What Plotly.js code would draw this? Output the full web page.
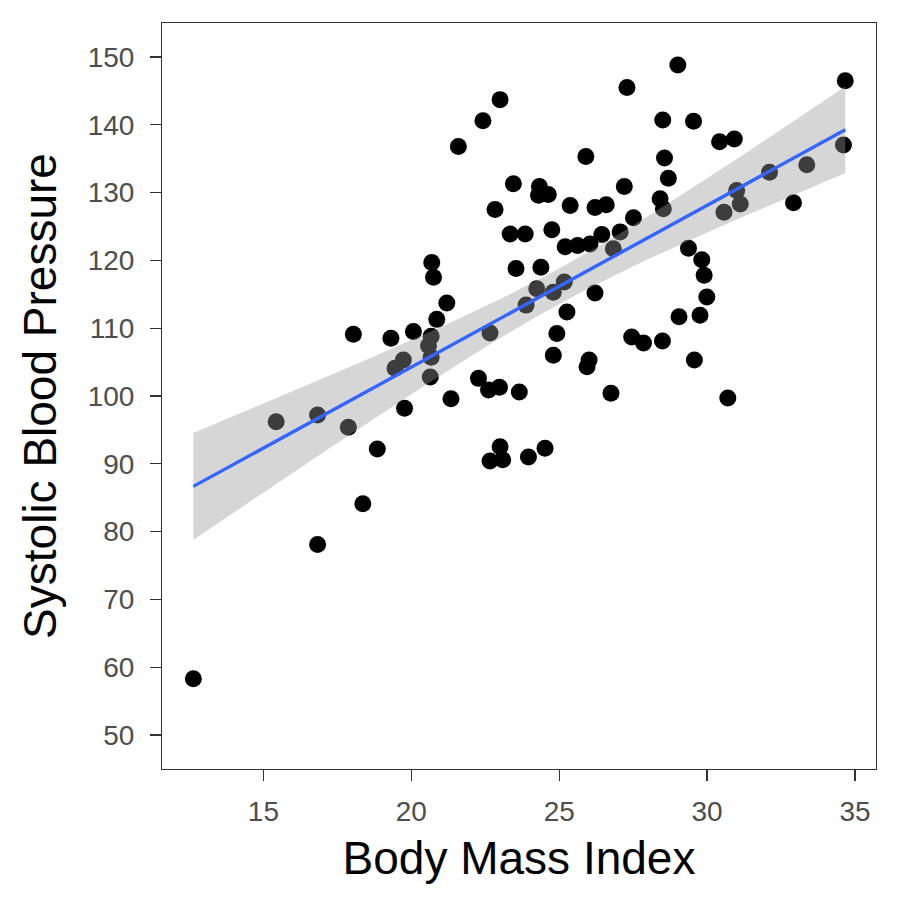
<!DOCTYPE html>
<html>
<head>
<meta charset="utf-8">
<script src="https://cdn.plot.ly/plotly-3.0.1.min.js"></script>
<style>html,body{margin:0;padding:0;background:#fff;}#chart{width:900px;height:900px;}</style>
</head>
<body>
<div id="chart"></div>
<script>
// Body Mass Index (x) and Systolic Blood Pressure (y)
const bmi = [12.63,15.43,16.83,16.83,17.87,18.04,18.36,18.85,19.31,19.45,
  19.73,19.77,20.07,20.69,20.75,20.86,20.67,20.58,20.67,20.64,
  21.20,21.34,21.59,22.27,22.42,22.61,22.66,22.66,22.83,22.98,
  23.00,23.00,23.09,23.34,23.45,23.54,23.65,23.85,23.88,23.96,
  24.24,24.33,24.30,24.63,24.38,24.52,24.75,24.80,24.80,24.92,
  25.17,25.20,25.26,25.37,25.62,25.90,26.01,25.94,26.04,26.21,
  26.21,26.44,26.59,26.75,26.83,27.06,27.20,27.29,27.45,27.51,
  27.85,28.41,28.52,28.49,28.50,28.56,28.69,29.01,29.05,29.37,
  29.54,29.57,29.76,29.82,29.90,29.99,30.42,30.57,30.70,30.92,
  31.00,31.12,32.11,32.92,33.37,34.61,34.67];
const sbp = [58.3,96.2,97.2,78.1,95.4,109.1,84.1,92.2,108.5,104.1,
  105.3,98.2,109.5,119.7,117.5,111.3,108.8,107.4,105.7,102.8,
  113.7,99.6,136.8,102.6,140.6,100.9,109.3,90.4,127.5,101.3,
  143.7,92.5,90.6,123.9,131.3,118.8,100.6,123.9,113.4,91.0,
  115.8,130.9,129.6,129.7,119.0,92.3,124.5,115.3,106.0,109.2,
  116.8,122.0,112.4,128.1,122.2,135.3,105.3,104.3,122.4,115.2,
  127.8,123.8,128.2,100.4,121.7,124.2,130.9,145.5,108.7,126.3,
  107.8,129.1,127.6,108.1,140.7,135.1,132.1,148.8,111.7,121.8,
  140.5,105.3,111.9,120.1,117.8,114.6,137.5,127.1,99.7,137.9,
  130.3,128.3,133.0,128.5,134.1,137.0,146.5];
const xTicks = [15,20,25,30,35];
const yTicks = [50,60,70,80,90,100,110,120,130,140,150];

// linear fit with 95% confidence band (like geom_smooth(method = "lm"))
const n = bmi.length;
const mx = bmi.reduce((a,b)=>a+b,0)/n;
const my = sbp.reduce((a,b)=>a+b,0)/n;
let sxx = 0, sxy = 0;
for (let i=0;i<n;i++){ sxx += (bmi[i]-mx)**2; sxy += (bmi[i]-mx)*(sbp[i]-my); }
const slope = sxy/sxx, intercept = my - slope*mx;
let sse = 0;
for (let i=0;i<n;i++){ sse += (sbp[i]-(intercept+slope*bmi[i]))**2; }
const df = n-2, s = Math.sqrt(sse/df);
const z = 1.959964;
const tq = z + (z**3+z)/(4*df) + (5*z**5+16*z**3+3*z)/(96*df*df);
const xmin = Math.min(...bmi), xmax = Math.max(...bmi);
const gx = [], gy = [], lo = [], hi = [];
for (let k=0;k<80;k++){
  const x = xmin + (xmax-xmin)*k/79;
  const yh = intercept + slope*x;
  const se = s*Math.sqrt(1/n + (x-mx)**2/sxx);
  gx.push(x); gy.push(yh); lo.push(yh - tq*se); hi.push(yh + tq*se);
}

const traces = [
  {type:'scatter', mode:'markers', x:bmi, y:sbp,
   marker:{color:'#000000', size:17, line:{width:0}}, hoverinfo:'x+y'},
  {type:'scatter', mode:'lines', x:gx.concat(gx.slice().reverse()), y:hi.concat(lo.slice().reverse()),
   fill:'toself', fillcolor:'rgba(153,153,153,0.4)', line:{width:0}, hoverinfo:'skip'},
  {type:'scatter', mode:'lines', x:gx, y:gy, line:{color:'#3366FF', width:3.4}, hoverinfo:'skip'}
];

const font = {family:'"Liberation Sans", Arial, sans-serif'};
const layout = {
  width:900, height:900,
  margin:{l:162, r:24, t:23, b:131},
  paper_bgcolor:'#ffffff', plot_bgcolor:'#ffffff',
  showlegend:false,
  font:font,
  xaxis:{range:[11.57,35.71], tickvals:xTicks, ticktext:xTicks.map(String),
    showgrid:false, zeroline:false, showline:true, mirror:true, linecolor:'#333333', linewidth:1,
    ticks:'outside', ticklen:11, tickwidth:1.3, tickcolor:'#333333',
    tickfont:{family:font.family, size:28, color:'#4D4D4D'}, ticklabelstandoff:6,
    title:{text:'Body Mass Index', font:{family:font.family, size:46, color:'#000000'}, standoff:16}},
  yaxis:{range:[45,155], tickvals:yTicks, ticktext:yTicks.map(String),
    showgrid:false, zeroline:false, showline:true, mirror:true, linecolor:'#333333', linewidth:1,
    ticks:'outside', ticklen:11, tickwidth:1.3, tickcolor:'#333333',
    tickfont:{family:font.family, size:28, color:'#4D4D4D'}, ticklabelstandoff:10,
    title:{text:'Systolic Blood Pressure', font:{family:font.family, size:46, color:'#000000'}, standoff:16}}
};
Plotly.newPlot('chart', traces, layout, {displayModeBar:false, staticPlot:true});
</script>
</body>
</html>
